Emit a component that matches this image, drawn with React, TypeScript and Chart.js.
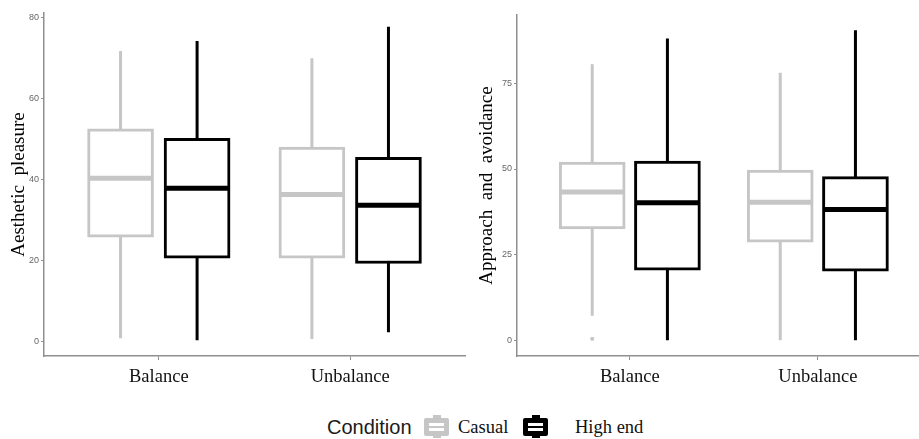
import React, { useEffect, useRef } from 'react';
import { Chart, registerables } from 'chart.js';
Chart.register(...registerables);

// ---------- DATA ----------
const categories = ['Balance', 'Unbalance'];
const seriesNames = ['Casual', 'High end'];
const seriesColors = ['#c6c6c6', '#000000'];

// five-number summaries per category: [min, q1, median, q3, max]
const aestheticCasual = [
  [0.7, 25.7, 40.3, 52.5, 71.8],
  [0.5, 20.5, 36.3, 48.0, 70.0],
];
const aestheticHighEnd = [
  [0.2, 20.5, 37.8, 50.2, 74.3],
  [2.2, 19.2, 33.6, 45.5, 77.8],
];
const approachCasual = [
  [7.3, 32.6, 43.3, 52.0, 80.5],
  [0.2, 28.7, 40.3, 49.7, 78.0],
];
const approachHighEnd = [
  [0.2, 20.6, 40.2, 52.3, 88.0],
  [0.2, 20.3, 38.2, 47.8, 90.4],
];
const approachCasualOutliers = [[0.6], []];
const approachHighEndOutliers = [[], []];
const aestheticCasualOutliers = [[], []];
const aestheticHighEndOutliers = [[], []];

const aestheticTicks = [0, 20, 40, 60, 80];
const approachTicks = [0, 25, 50, 75];

const AXIS_COLOR = '#8f8f8f';

function buildDatasets(series: number[][][], outliers: number[][][], dodge: number) {
  const ds: any[] = [];
  series.forEach((stats, s) => {
    const color = seriesColors[s];
    const off = (s === 0 ? -1 : 1) * dodge;
    stats.forEach((st, c) => {
      const x = c + 1 + off;
      ds.push({
        type: 'line',
        label: seriesNames[s] + ' whisker',
        data: [{ x, y: st[0] }, { x, y: st[4] }],
        borderColor: color,
        borderWidth: 3,
        borderCapStyle: 'butt',
        pointRadius: 0,
        fill: false,
        order: 2,
      });
    });
    ds.push({
      type: 'bar',
      label: seriesNames[s],
      data: stats.map((st, c) => ({ x: c + 1 + off, y: [st[1], st[3]] })),
      backgroundColor: '#ffffff',
      borderColor: color,
      borderWidth: 3,
      borderSkipped: false,
      barThickness: 66,
      grouped: false,
      order: 1,
    });
    ds.push({
      type: 'scatter',
      label: seriesNames[s] + ' median',
      data: stats.map((st, c) => ({ x: c + 1 + off, y: st[2] })),
      pointStyle: 'line',
      pointRadius: 31.5,
      pointHoverRadius: 31.5,
      borderWidth: 5,
      pointBorderWidth: 5,
      borderColor: color,
      backgroundColor: color,
      order: 0,
    });
    const pts: any[] = [];
    outliers[s].forEach((arr, c) => arr.forEach((v) => pts.push({ x: c + 1 + off, y: v })));
    if (pts.length) {
      ds.push({
        type: 'scatter',
        label: seriesNames[s] + ' outliers',
        data: pts,
        pointStyle: 'rectRounded',
        pointRadius: 2.2,
        borderWidth: 0,
        backgroundColor: color,
        borderColor: color,
        order: 0,
      });
    }
  });
  return ds;
}

function makeConfig(opts: {
  datasets: any[];
  yMin: number;
  yMax: number;
  yTicks: number[];
  xMax: number;
  title: string;
  yWidth: number;
  padTop: number;
  padRight: number;
  titlePad: number;
}) {
  return {
    type: 'bar',
    data: { datasets: opts.datasets },
    options: {
      animation: false,
      responsive: false,
      maintainAspectRatio: false,
      layout: { autoPadding: false, padding: { left: 0, right: opts.padRight, top: opts.padTop, bottom: 0 } },
      plugins: { legend: { display: false }, tooltip: { enabled: false } },
      scales: {
        x: {
          type: 'linear',
          min: 0.4,
          max: opts.xMax,
          offset: false,
          afterBuildTicks: (s: any) => {
            s.ticks = categories.map((_, i) => ({ value: i + 1 }));
          },
          afterFit: (s: any) => {
            s.height = 44;
          },
          ticks: {
            callback: (_v: any, i: number) => categories[i],
            font: { family: 'Liberation Serif', size: 18.5 },
            color: '#111',
            padding: 6,
            maxRotation: 0,
            autoSkip: false,
          },
          grid: { display: true, drawOnChartArea: false, offset: false, tickLength: 4, color: AXIS_COLOR, lineWidth: 1 },
          border: { display: true, color: AXIS_COLOR, width: 1.5 },
        },
        y: {
          type: 'linear',
          min: opts.yMin,
          max: opts.yMax,
          afterBuildTicks: (s: any) => {
            s.ticks = opts.yTicks.map((v) => ({ value: v }));
          },
          afterFit: (s: any) => {
            s.width = opts.yWidth;
          },
          ticks: {
            font: { family: 'Liberation Sans', size: 9 },
            color: '#666',
            padding: 2,
          },
          grid: { display: true, drawOnChartArea: false, tickLength: 3, color: AXIS_COLOR, lineWidth: 1 },
          border: { display: true, color: AXIS_COLOR, width: 1.5 },
          title: {
            display: true,
            text: opts.title,
            font: { family: 'Liberation Serif', size: 19 },
            color: '#000',
            padding: { top: opts.titlePad, bottom: 0 },
          },
        },
      },
    },
  } as any;
}

function Panel(props: { left: number; width: number; config: any }) {
  const ref = useRef<HTMLCanvasElement | null>(null);
  useEffect(() => {
    if (!ref.current) return;
    const chart = new Chart(ref.current, props.config);
    return () => chart.destroy();
  }, []);
  return (
    <canvas
      ref={ref}
      width={props.width}
      height={400}
      style={{ position: 'absolute', left: props.left, top: 0, width: props.width, height: 400 }}
    />
  );
}

function KeyIcon(props: { color: string; left: number }) {
  const c = props.color;
  return (
    <div style={{ position: 'absolute', left: props.left, top: 415, width: 25, height: 24 }}>
      <div style={{ position: 'absolute', left: 8.5, top: 0, width: 8, height: 3, background: c }} />
      <div style={{ position: 'absolute', left: 0, top: 3, width: 25, height: 18, background: c, borderRadius: 2 }}>
        <div style={{ position: 'absolute', left: 5, top: 5, width: 15, height: 3, background: '#fff' }} />
        <div style={{ position: 'absolute', left: 5, top: 10, width: 15, height: 3, background: '#fff' }} />
      </div>
      <div style={{ position: 'absolute', left: 8.5, top: 21, width: 8, height: 2, background: c }} />
    </div>
  );
}

export default function App() {
  const leftConfig = makeConfig({
    datasets: buildDatasets([aestheticCasual, aestheticHighEnd], [aestheticCasualOutliers, aestheticHighEndOutliers], 0.2),
    yMin: -3.7,
    yMax: 81.2,
    yTicks: aestheticTicks,
    xMax: 2.6,
    title: 'Aesthetic  pleasure',
    yWidth: 44,
    padTop: 13,
    padRight: 5,
    titlePad: 8,
  });
  const rightConfig = makeConfig({
    datasets: buildDatasets([approachCasual, approachHighEnd], [approachCasualOutliers, approachHighEndOutliers], 0.2),
    yMin: -4.4,
    yMax: 94.8,
    yTicks: approachTicks,
    xMax: 2.538,
    title: 'Approach  and  avoidance',
    yWidth: 47,
    padTop: 15,
    padRight: 0,
    titlePad: 6,
  });
  const textStyle: any = { position: 'absolute', whiteSpace: 'nowrap', lineHeight: '24px', top: 415 };
  return (
    <div style={{ position: 'absolute', left: 0, top: 0, width: 919, height: 439, overflow: 'hidden', background: '#fff' }}>
      <Panel left={0} width={470} config={leftConfig} />
      <Panel left={470} width={449} config={rightConfig} />
      <span style={{ ...textStyle, left: 327, fontFamily: 'Liberation Sans', fontSize: 20, color: '#1a1a1a' }}>Condition</span>
      <KeyIcon color={seriesColors[0]} left={424} />
      <span style={{ ...textStyle, left: 458, fontFamily: 'Liberation Serif', fontSize: 18.5, color: '#111' }}>{seriesNames[0]}</span>
      <KeyIcon color={seriesColors[1]} left={523} />
      <span style={{ ...textStyle, left: 575, fontFamily: 'Liberation Serif', fontSize: 18.5, color: '#111' }}>{seriesNames[1]}</span>
    </div>
  );
}
